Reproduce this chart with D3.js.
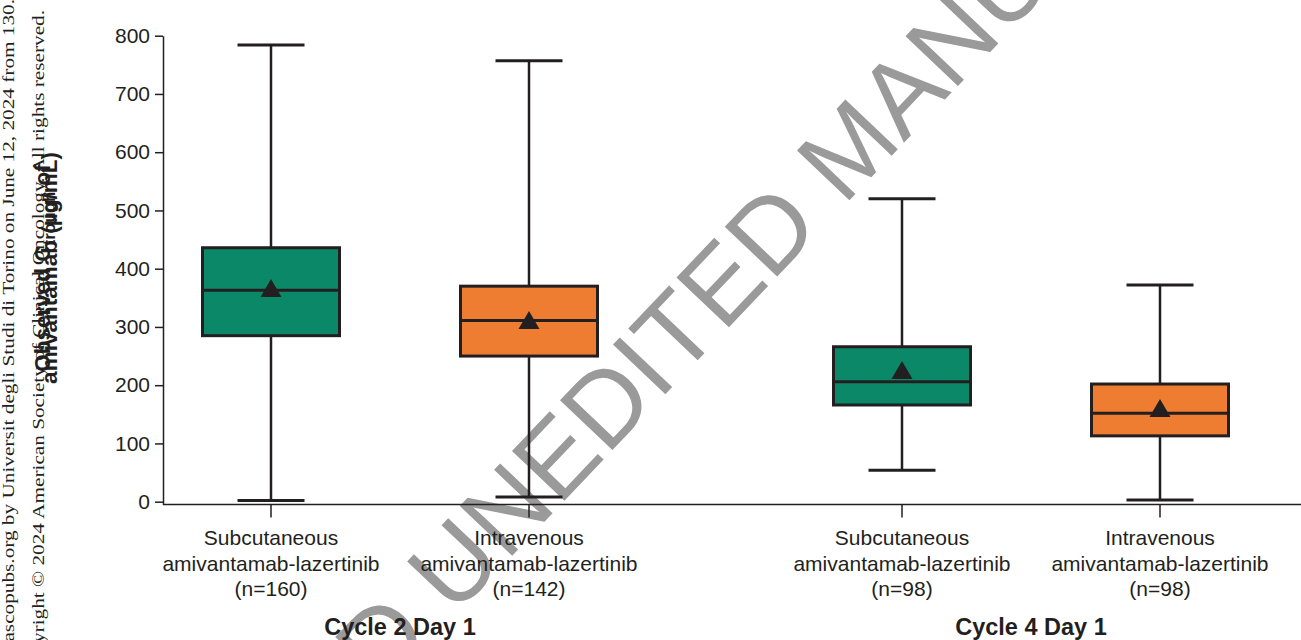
<!DOCTYPE html>
<html>
<head>
<meta charset="utf-8">
<script src="https://d3js.org/d3.v7.min.js"></script>
<style>
  body { margin: 0; background: #fff; }
  svg text { font-family: "Liberation Sans", Arial, sans-serif; fill: #231f20; }
</style>
</head>
<body>
<svg id="chart" width="1301" height="640"></svg>
<script>
// ---- data ----
var groups = ["Cycle 2 Day 1", "Cycle 4 Day 1"]
var routes = ["Subcutaneous", "Intravenous"]
var drugName = "amivantamab-lazertinib"
var sampleSizes = [160, 142, 98, 98]
var whiskerLow = [2, 8, 54, 3]
var q1 = [285, 250, 166, 113]
var medians = [363, 311, 206, 152]
var q3 = [436, 370, 266, 202]
var whiskerHigh = [784, 757, 520, 372]
var means = [367, 312, 226, 161]
var yTicks = [0, 100, 200, 300, 400, 500, 600, 700, 800]
var routeColors = ["#0b8868", "#ee7d31"]

var boxes = d3.range(sampleSizes.length).map(function(i) {
    return {
        group: groups[Math.floor(i / 2)],
        route: routes[i % 2],
        n: sampleSizes[i],
        lo: whiskerLow[i], q1: q1[i], med: medians[i], q3: q3[i], hi: whiskerHigh[i],
        mean: means[i]
    }
})

var svg = d3.select("#chart")
var ink = "#231f20"

// watermark behind everything
var wm = svg.append("g")
    .attr("transform", "translate(454,617) rotate(-46.5)")
    .style("font-size", "105px")
wm.append("text").text("UNEDITED MANUSCRIPT").style("fill", "#9a9a9a")
wm.append("text").text("ACCEPTED").attr("x", -29).attr("text-anchor", "end").style("fill", "#9a9a9a")

// side copyright text (stretched along its length as in the page scan)
var serif = '"Liberation Serif", "Times New Roman", serif'
svg.append("text")
    .attr("transform", "translate(14,802) rotate(-90) scale(1.25,1)")
    .style("font-family", serif).style("font-size", "17px")
    .text("Downloaded from ascopubs.org by Universit degli Studi di Torino on June 12, 2024 from 130.192.")
svg.append("text")
    .attr("transform", "translate(44,10) rotate(-90) scale(1.25,1)")
    .attr("text-anchor", "end")
    .style("font-family", serif).style("font-size", "17px")
    .text("Copyright © 2024 American Society of Clinical Oncology. All rights reserved.")

// scales
var xGroup = d3.scalePoint().domain(groups).range([400, 1031])
var xRoute = d3.scalePoint().domain(routes).range([-129, 129])
var y = d3.scaleLinear().domain([-5, 800]).range([504.6, 35.7])
function cx(d) { return xGroup(d.group) + xRoute(d.route) }

var left = 163, right = 1301
var boxW = 137, capW = 67

// y axis
var yAxis = svg.append("g")
    .attr("transform", "translate(" + left + ",0)")
    .call(d3.axisLeft(y).tickValues(yTicks).tickSize(8).tickSizeOuter(0).tickPadding(5))
yAxis.selectAll("path, line").attr("stroke", ink).attr("stroke-width", 1.5)
yAxis.selectAll("text").style("font-size", "21px").attr("fill", ink)

// x axis baseline with ticks at each box
svg.append("line")
    .attr("x1", left).attr("x2", right)
    .attr("y1", y(-5)).attr("y2", y(-5))
    .attr("stroke", ink).attr("stroke-width", 1.5)
svg.selectAll(".xtick").data(boxes).enter().append("line")
    .attr("x1", cx).attr("x2", cx)
    .attr("y1", y(-5)).attr("y2", y(-5) + 13)
    .attr("stroke", ink).attr("stroke-width", 1.5)

// boxes
var g = svg.selectAll(".box").data(boxes).enter().append("g")

g.append("line") // upper whisker
    .attr("x1", cx).attr("x2", cx)
    .attr("y1", function(d) { return y(d.q3) }).attr("y2", function(d) { return y(d.hi) })
    .attr("stroke", ink).attr("stroke-width", 2.5)
g.append("line") // lower whisker
    .attr("x1", cx).attr("x2", cx)
    .attr("y1", function(d) { return y(d.q1) }).attr("y2", function(d) { return y(d.lo) })
    .attr("stroke", ink).attr("stroke-width", 2.5)
g.append("line")
    .attr("x1", function(d) { return cx(d) - capW / 2 }).attr("x2", function(d) { return cx(d) + capW / 2 })
    .attr("y1", function(d) { return y(d.hi) }).attr("y2", function(d) { return y(d.hi) })
    .attr("stroke", ink).attr("stroke-width", 3)
g.append("line")
    .attr("x1", function(d) { return cx(d) - capW / 2 }).attr("x2", function(d) { return cx(d) + capW / 2 })
    .attr("y1", function(d) { return y(d.lo) }).attr("y2", function(d) { return y(d.lo) })
    .attr("stroke", ink).attr("stroke-width", 3)

g.append("rect")
    .attr("x", function(d) { return cx(d) - boxW / 2 })
    .attr("width", boxW)
    .attr("y", function(d) { return y(d.q3) })
    .attr("height", function(d) { return y(d.q1) - y(d.q3) })
    .attr("fill", function(d) { return routeColors[routes.indexOf(d.route)] })
    .attr("stroke", ink).attr("stroke-width", 3)

g.append("line")
    .attr("x1", function(d) { return cx(d) - boxW / 2 }).attr("x2", function(d) { return cx(d) + boxW / 2 })
    .attr("y1", function(d) { return y(d.med) }).attr("y2", function(d) { return y(d.med) })
    .attr("stroke", ink).attr("stroke-width", 3)

// mean marker (triangle centred on the mean)
g.append("path")
    .attr("d", "M0,-9L10.5,9L-10.5,9Z")
    .attr("transform", function(d) { return "translate(" + cx(d) + "," + y(d.mean) + ")" })
    .attr("fill", ink)

// category labels
var lab = svg.selectAll(".lab").data(boxes).enter().append("text")
    .attr("text-anchor", "middle")
    .style("font-size", "21px")
lab.append("tspan").attr("x", cx).attr("y", 545).text(function(d) { return d.route })
lab.append("tspan").attr("x", cx).attr("y", 570.5).text(drugName)
lab.append("tspan").attr("x", cx).attr("y", 596).text(function(d) { return "(n=" + d.n + ")" })

svg.selectAll(".grp").data(groups).enter().append("text")
    .attr("x", function(d) { return xGroup(d) })
    .attr("y", 635)
    .attr("text-anchor", "middle")
    .style("font-size", "23.5px").style("font-weight", "bold")
    .text(function(d) { return d })

// y title (two lines, overlapping in the original)
var t1 = svg.append("text")
    .attr("transform", "translate(50,268) rotate(-90)")
    .attr("text-anchor", "middle")
    .style("font-size", "22.5px").style("font-weight", "bold")
t1.append("tspan").text("Observed C")
t1.append("tspan").attr("dy", 5).style("font-size", "17px").text("trough")
t1.append("tspan").attr("dy", -5).text(" of")
svg.append("text")
    .attr("transform", "translate(57,268) rotate(-90)")
    .attr("text-anchor", "middle")
    .style("font-size", "22.5px").style("font-weight", "bold")
    .text("amivantamab (µg/mL)")
</script>
</body>
</html>
